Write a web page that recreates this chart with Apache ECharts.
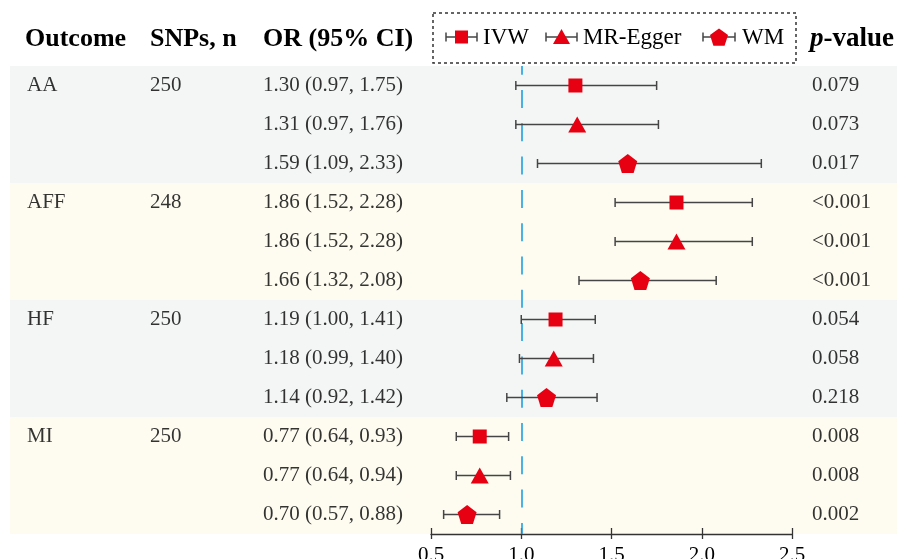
<!DOCTYPE html>
<html><head><meta charset="utf-8">
<script src="https://cdn.jsdelivr.net/npm/echarts@6/dist/echarts.min.js"></script>
<style>html,body{margin:0;padding:0;background:#fff}#c{width:897px;height:559px}</style>
</head><body><div id="c"></div><script>
// ---------- data ----------
const outcomes = ['AA', 'AFF', 'HF', 'MI'];
const snps = ['250', '248', '250', '250'];
const methods = ['IVW', 'MR-Egger', 'WM'];
const ivwOR   = [1.30, 1.86, 1.19, 0.77];
const ivwLow  = [0.97, 1.52, 1.00, 0.64];
const ivwHigh = [1.75, 2.28, 1.41, 0.93];
const ivwP    = ['0.079', '<0.001', '0.054', '0.008'];
const eggerOR   = [1.31, 1.86, 1.18, 0.77];
const eggerLow  = [0.97, 1.52, 0.99, 0.64];
const eggerHigh = [1.76, 2.28, 1.40, 0.94];
const eggerP    = ['0.073', '<0.001', '0.058', '0.008'];
const wmOR   = [1.59, 1.66, 1.14, 0.70];
const wmLow  = [1.09, 1.32, 0.92, 0.57];
const wmHigh = [2.33, 2.08, 1.42, 0.88];
const wmP    = ['0.017', '<0.001', '0.218', '0.002'];
const xTicks = [0.5, 1.0, 1.5, 2.0, 2.5];
const headers = ['Outcome', 'SNPs, n', 'OR (95% CI)'];
const refValue = 1.0;

// ---------- layout / style ----------
const FONT = 'Liberation Serif';
const RED = '#E60012';
const BAR = '#454545';
const TXT = '#000';
const colX = { outcome: 27, snp: 150, or: 263, p: 812 };
const W = 897, H = 559;
const bandColors = ['#F4F6F6', '#FEFCF1'];
const GRID_TOP = 66, GRID_BOTTOM = 25;

const est = [ivwOR, eggerOR, wmOR];
const lows = [ivwLow, eggerLow, wmLow];
const highs = [ivwHigh, eggerHigh, wmHigh];
const pv = [ivwP, eggerP, wmP];
const symbols = ['rect', 'triangle', 'path://M50,0 L100,36.3 L80.9,95.1 L19.1,95.1 L0,36.3 Z'];
const symSizes = [14, [18, 16], 19];

const nRows = outcomes.length * methods.length;
const rowY = (i, m) => i * methods.length + m + 0.5;

const errData = [];
const markerSeries = methods.map((name, m) => ({
  name, type: 'scatter', xAxisIndex: 0, yAxisIndex: 0,
  symbol: symbols[m], symbolSize: symSizes[m], symbolKeepAspect: false,
  itemStyle: { color: RED, opacity: 1 }, z: 5, silent: true,
  data: outcomes.map((o, i) => [est[m][i], rowY(i, m)])
}));
outcomes.forEach((o, i) => methods.forEach((n, m) => {
  errData.push([lows[m][i], highs[m][i], rowY(i, m)]);
}));

const textData = [];
outcomes.forEach((o, i) => {
  textData.push({ value: [colX.outcome, rowY(i, 0)], name: o });
  textData.push({ value: [colX.snp, rowY(i, 0)], name: snps[i] });
  methods.forEach((n, m) => {
    const s = est[m][i].toFixed(2) + ' (' + lows[m][i].toFixed(2) + ', ' + highs[m][i].toFixed(2) + ')';
    textData.push({ value: [colX.or, rowY(i, m)], name: s });
    textData.push({ value: [colX.p, rowY(i, m)], name: pv[m][i] });
  });
});

const bands = outcomes.map((o, i) => [
  { xAxis: 10, yAxis: i * methods.length, itemStyle: { color: bandColors[i % 2] } },
  { xAxis: W, yAxis: (i + 1) * methods.length }
]);

// legend (graphic)
const LY = 37;
const legItems = [
  { x1: 446, x2: 477, cx: 461.5, tx: 483, shape: 'rect' },
  { x1: 546, x2: 577, cx: 561.5, tx: 583, shape: 'tri' },
  { x1: 703, x2: 735, cx: 719, tx: 742, shape: 'pent' }
];
const legendGraphics = [{
  type: 'rect', shape: { x: 433, y: 13, width: 363, height: 50 },
  style: { fill: 'none', stroke: '#333', lineWidth: 1.5, lineDash: [3, 3] }
}];
legItems.forEach((it, m) => {
  legendGraphics.push({ type: 'line', shape: { x1: it.x1, y1: LY, x2: it.x2, y2: LY }, style: { stroke: BAR, lineWidth: 1.5 } });
  legendGraphics.push({ type: 'line', shape: { x1: it.x1, y1: LY - 4.5, x2: it.x1, y2: LY + 4.5 }, style: { stroke: BAR, lineWidth: 1.5 } });
  legendGraphics.push({ type: 'line', shape: { x1: it.x2, y1: LY - 4.5, x2: it.x2, y2: LY + 4.5 }, style: { stroke: BAR, lineWidth: 1.5 } });
  if (it.shape === 'rect') {
    legendGraphics.push({ type: 'rect', shape: { x: it.cx - 6.5, y: LY - 6.5, width: 13, height: 13 }, style: { fill: RED } });
  } else if (it.shape === 'tri') {
    legendGraphics.push({ type: 'polygon', shape: { points: [[it.cx - 8.5, LY + 7], [it.cx + 8.5, LY + 7], [it.cx, LY - 8]] }, style: { fill: RED } });
  } else {
    const r = 9.5, pts = [];
    for (let k = 0; k < 5; k++) { const a = -Math.PI / 2 + k * 2 * Math.PI / 5; pts.push([it.cx + r * Math.cos(a), LY + 1 + r * Math.sin(a)]); }
    legendGraphics.push({ type: 'polygon', shape: { points: pts }, style: { fill: RED } });
  }
  legendGraphics.push({ type: 'text', x: it.tx, y: LY + 1, style: { text: methods[m], font: '23px "' + FONT + '"', fill: TXT, verticalAlign: 'middle', align: 'left' } });
});

const headerY = 39;
const HF = 'bold 26px "' + FONT + '"';
const headerGraphics = [
  { type: 'text', x: colX.outcome - 2, y: headerY, style: { text: headers[0], font: HF, fill: TXT, verticalAlign: 'middle' } },
  { type: 'text', x: colX.snp, y: headerY, style: { text: headers[1], font: HF, fill: TXT, verticalAlign: 'middle' } },
  { type: 'text', x: colX.or, y: headerY, style: { text: headers[2], font: HF, fill: TXT, verticalAlign: 'middle' } },
  { type: 'text', x: colX.p - 2, y: headerY, style: { text: '{i|p}{b|-value}', verticalAlign: 'middle', rich: {
      i: { fontFamily: FONT, fontSize: 27, fontWeight: 'bold', fontStyle: 'italic', fill: TXT, color: TXT },
      b: { fontFamily: FONT, fontSize: 27, fontWeight: 'bold', fill: TXT, color: TXT } } } }
];

const chart = echarts.init(document.getElementById('c'), null, { renderer: 'canvas' });
chart.setOption({
  animation: false,
  backgroundColor: '#fff',
  textStyle: { fontFamily: FONT },
  grid: [
    { left: 431, right: W - 792, top: GRID_TOP, bottom: GRID_BOTTOM, containLabel: false, outerBoundsMode: 'none' },
    { left: 0, right: 0, top: GRID_TOP, bottom: GRID_BOTTOM, containLabel: false, outerBoundsMode: 'none' },
    // thin strip right below the plot: carries the upward half of the axis ticks
    { left: 431, right: W - 792, top: H - GRID_BOTTOM, bottom: 0, containLabel: false, outerBoundsMode: 'none' }
  ],
  xAxis: [
    { type: 'value', gridIndex: 0, min: xTicks[0], max: xTicks[xTicks.length - 1], interval: 0.5, position: 'bottom',
      axisLine: { show: true, onZero: false, lineStyle: { color: '#333', width: 1.3 } },
      axisTick: { show: true, length: 5, lineStyle: { color: '#333', width: 1.3 } },
      axisLabel: { show: true, margin: 11, fontFamily: FONT, fontSize: 21, color: TXT, formatter: v => v.toFixed(1) },
      splitLine: { show: false } },
    { type: 'value', gridIndex: 2, min: xTicks[0], max: xTicks[xTicks.length - 1], interval: 0.5, position: 'top',
      axisLine: { show: false, onZero: false }, axisTick: { show: true, inside: false, length: 6, lineStyle: { color: '#333', width: 1.3 } },
      axisLabel: { show: false }, splitLine: { show: false } },
    { type: 'value', gridIndex: 1, min: 0, max: W, show: false, axisLine: { onZero: false } }
  ],
  yAxis: [
    { type: 'value', gridIndex: 0, min: 0, max: nRows, inverse: true, show: false, axisLine: { onZero: false } },
    { type: 'value', gridIndex: 1, min: 0, max: nRows, inverse: true, show: false, axisLine: { onZero: false } },
    { type: 'value', gridIndex: 2, min: 0, max: 1, show: false, axisLine: { onZero: false } }
  ],
  series: [
    { type: 'scatter', xAxisIndex: 2, yAxisIndex: 1, symbolSize: 0, silent: true, z: 1,
      data: textData,
      label: { show: true, position: 'right', distance: 0, formatter: '{b}', fontFamily: FONT, fontSize: 21, color: TXT },
      markArea: { silent: true, data: bands, z: 0 } },
    { type: 'custom', xAxisIndex: 0, yAxisIndex: 0, z: 3, silent: true,
      data: errData,
      renderItem: (params, api) => {
        const a = api.coord([api.value(0), api.value(2)]);
        const b = api.coord([api.value(1), api.value(2)]);
        const h = 4.5, st = { stroke: BAR, lineWidth: 1.5 };
        return { type: 'group', children: [
          { type: 'line', shape: { x1: a[0], y1: a[1], x2: b[0], y2: b[1] }, style: st },
          { type: 'line', shape: { x1: a[0], y1: a[1] - h, x2: a[0], y2: a[1] + h }, style: st },
          { type: 'line', shape: { x1: b[0], y1: b[1] - h, x2: b[0], y2: b[1] + h }, style: st }
        ] };
      },
      markLine: { silent: true, symbol: 'none', label: { show: false }, z: 2,
        lineStyle: { color: '#1E9FE3', width: 1.6, type: [18, 15.3], dashOffset: 9.3 },
        data: [{ xAxis: refValue }] } },
    ...markerSeries
  ],
  graphic: [...legendGraphics, ...headerGraphics]
});
</script></body></html>
